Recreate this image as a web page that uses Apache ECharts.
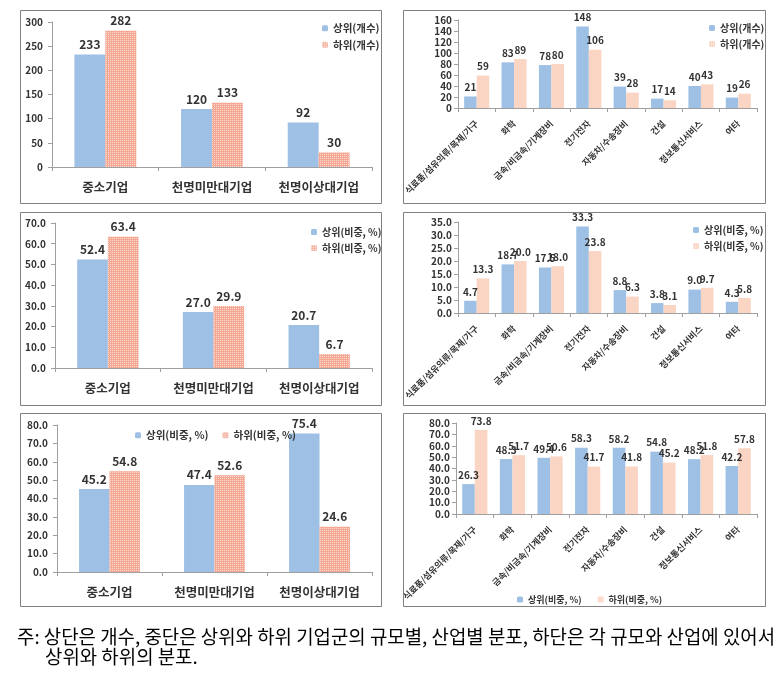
<!DOCTYPE html>
<html><head><meta charset="utf-8">
<script src="https://cdn.jsdelivr.net/npm/echarts@6/dist/echarts.min.js"></script>
<style>html,body{margin:0;padding:0;background:#fff}#c{width:783px;height:678px}</style>
</head><body><div id="c"></div>
<script>
// ---- data ----
const sizeCats = ['중소기업','천명미만대기업','천명이상대기업'];
const indCats = ['식료품/섬유의류/목재/가구','화학','금속/비금속/기계장비','전기전자','자동차/수송장비','건설','정보통신서비스','여타'];
const sizeCountTop = [233,120,92];
const sizeCountBot = [282,133,30];
const indCountTop = [21,83,78,148,39,17,40,19];
const indCountBot = [59,89,80,106,28,14,43,26];
const sizeShareTop = [52.4,27.0,20.7];
const sizeShareBot = [63.4,29.9,6.7];
const indShareTop = [4.7,18.7,17.5,33.3,8.8,3.8,9.0,4.3];
const indShareBot = [13.3,20.0,18.0,23.8,6.3,3.1,9.7,5.8];
const sizeMixTop = [45.2,47.4,75.4];
const sizeMixBot = [54.8,52.6,24.6];
const indMixTop = [26.3,48.3,49.4,58.3,58.2,54.8,48.2,42.2];
const indMixBot = [73.8,51.7,50.6,41.7,41.8,45.2,51.8,57.8];
const nameCntTop = '상위(개수)', nameCntBot = '하위(개수)';
const nameShTop = '상위(비중, %)', nameShBot = '하위(비중, %)';
const footnote = '주: 상단은 개수, 중단은 상위와 하위 기업군의 규모별, 산업별 분포, 하단은 각 규모와 산업에 있어서';
const footnote2 = '상위와 하위의 분포.';

// ---- styles ----
const FONT = 'Noto Sans CJK KR';
const BLUE = '#9dc0e4';
const SALMON = '#f4a894';
const SALMON_LEG = '#f3b8a8';
const PEACH = '#fad5c3';
const AX = '#a0a0a0';
const TXT = '#333';

const grids=[], xAxes=[], yAxes=[], series=[], legends=[];

function panel(g, cats, top, bot, nTop, nBot, y, left, legend){
  const i = grids.length;
  grids.push(g);
  xAxes.push({type:'category', gridIndex:i, data:cats,
    axisLine:{lineStyle:{color:AX}}, axisTick:{show:true, length:4, lineStyle:{color:AX}},
    axisLabel: left ? {color:TXT, fontFamily:FONT, fontWeight:'bold', fontSize:12.5, margin:14, interval:0}
                    : {color:TXT, fontFamily:FONT, fontWeight:'bold', fontSize:8.8, margin:14, interval:0, rotate:45}});
  yAxes.push({type:'value', gridIndex:i, min:0, max:y.max, interval:y.step,
    axisLine:{show:true, lineStyle:{color:AX}}, axisTick:{show:true, length:4, lineStyle:{color:AX}},
    splitLine:{show:false},
    axisLabel:{color:TXT, fontFamily:FONT, fontWeight:'bold', fontSize:10, margin:left?9:6,
      formatter: v => y.dec ? v.toFixed(1) : String(v)}});
  const lab = (dec)=>({show:true, position:'top', distance:4, color:TXT, fontFamily:FONT, fontWeight:'bold',
      fontSize: left?12:10, formatter: p => dec ? p.value.toFixed(1) : String(p.value)});
  series.push({type:'bar', name:nTop, xAxisIndex:i, yAxisIndex:i, data:top,
    barGap:'0%', barCategoryGap: left?'42%':'33%',
    itemStyle:{color:BLUE}, label:lab(y.dec)});
  const botStyle = left ? {color:SALMON, decal:{symbol:'rect', symbolSize:1, color:'rgba(255,255,255,0.6)', dashArrayX:[1,1], dashArrayY:[1,1], rotation:0}}
                        : {color:PEACH};
  series.push({type:'bar', name:nBot, xAxisIndex:i, yAxisIndex:i, data:bot,
    barGap:'0%', barCategoryGap: left?'42%':'33%',
    itemStyle:botStyle, label:lab(y.dec)});
  legends.push(Object.assign({
    data:[{name:nTop, itemStyle:{color:BLUE}}, {name:nBot, itemStyle:{color: left?SALMON_LEG:PEACH}}],
    itemWidth:6, itemHeight:6, selectedMode:false,
    textStyle:{color:TXT, fontFamily:FONT, fontWeight:'bold', fontSize:legend.fs||10.5}
  }, legend));
}

panel({left:52, top:22, width:320, height:145}, sizeCats, sizeCountTop, sizeCountBot, nameCntTop, nameCntBot,
  {max:300, step:50, dec:false}, true, {orient:'vertical', left:317, top:18, itemGap:6});
panel({left:458, top:20, width:299, height:88}, indCats, indCountTop, indCountBot, nameCntTop, nameCntBot,
  {max:160, step:20, dec:false}, false, {orient:'vertical', left:704, top:18, itemGap:6, fs:10});
panel({left:55, top:223, width:317, height:145}, sizeCats, sizeShareTop, sizeShareBot, nameShTop, nameShBot,
  {max:70, step:10, dec:true}, true, {orient:'vertical', left:306, top:222, itemGap:6, fs:10});
panel({left:458, top:222, width:299, height:91}, indCats, indShareTop, indShareBot, nameShTop, nameShBot,
  {max:35, step:5, dec:true}, false, {orient:'vertical', left:688, top:220, itemGap:6, fs:10});
panel({left:57, top:425, width:315, height:147}, sizeCats, sizeMixTop, sizeMixBot, nameShTop, nameShBot,
  {max:80, step:10, dec:true}, true, {orient:'horizontal', left:130, top:425, itemGap:14});
panel({left:456, top:423, width:301, height:91}, indCats, indMixTop, indMixBot, nameShTop, nameShBot,
  {max:80, step:10, dec:true}, false, {orient:'horizontal', left:512, top:590, itemGap:16, fs:9});

const border = (x,y,w,h)=>({type:'rect', silent:true, shape:{x:x+0.5, y:y+0.5, width:w, height:h},
  style:{fill:'none', stroke:'#808080', lineWidth:1}});

const chart = echarts.init(document.getElementById('c'), null, {renderer:'canvas'});
chart.setOption({
  animation:false,
  backgroundColor:'#fff',
  grid:grids, xAxis:xAxes, yAxis:yAxes, series:series, legend:legends,
  graphic:[
    border(20,10,361,193), border(403,10,362,193),
    border(20,212,361,193), border(403,212,362,193),
    border(20,413,361,193), border(403,413,362,193),
    {type:'text', silent:true, left:17, top:627, style:{text:footnote, fill:'#000', font:'18.9px "'+FONT+'"'}},
    {type:'text', silent:true, left:45, top:647, style:{text:footnote2, fill:'#000', font:'18.9px "'+FONT+'"'}}
  ]
});
</script></body></html>
